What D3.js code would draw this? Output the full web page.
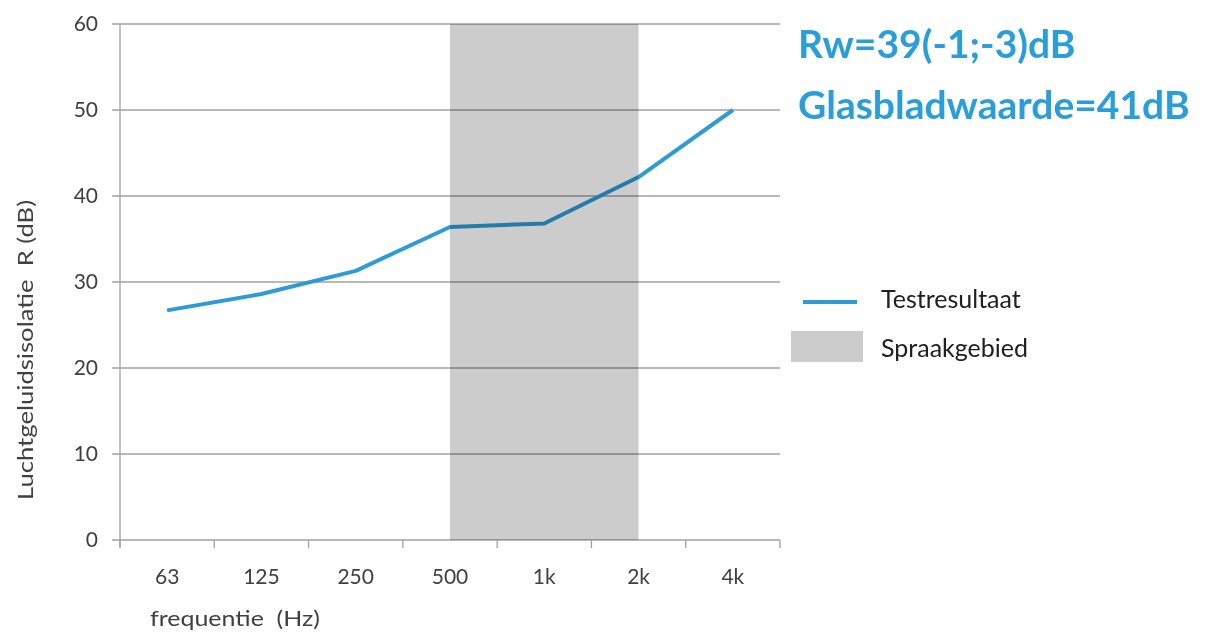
<!DOCTYPE html>
<html>
<head>
    <meta charset="utf-8" />
    <style>
        body { margin: 0; background: white; }
        text { font-family: Lato, "Open Sans", sans-serif; }
    </style>
    <script src="https://d3js.org/d3.v7.min.js"></script>
</head>
<body>
    <script>
        // data
        var frequencies = ["63", "125", "250", "500", "1k", "2k", "4k"];
        var testValues = [26.7, 28.6, 31.3, 36.4, 36.8, 42.2, 50.0];
        var speechBand = ["500", "2k"];
        var yTicks = [0, 10, 20, 30, 40, 50, 60];
        var notes = ["Rw=39(-1;-3)dB", "Glasbladwaarde=41dB"];
        var legendLabels = ["Testresultaat", "Spraakgebied"];

        var width = 1214, height = 632;
        var plotLeft = 120, plotRight = 780, plotTop = 24, plotBottom = 540;
        var blue = "#2e9bd6", gridColor = "#a0a0a0", textColor = "#404040";

        var svg = d3.select("body").append("svg")
            .attr("width", width)
            .attr("height", height);

        var x = d3.scaleBand().domain(frequencies).range([plotLeft, plotRight]);
        var y = d3.scaleLinear().domain([0, 60]).range([plotBottom, plotTop]);
        var cx = function (f) { return x(f) + x.bandwidth() / 2; };

        // horizontal grid + y tick labels
        svg.append("g").selectAll("line").data(yTicks).enter().append("line")
            .attr("x1", plotLeft - 8).attr("x2", plotRight)
            .attr("y1", function (d) { return y(d); })
            .attr("y2", function (d) { return y(d); })
            .attr("stroke", gridColor).attr("stroke-width", 1.3);
        svg.append("g").selectAll("text").data(yTicks).enter().append("text")
            .attr("x", plotLeft - 22).attr("y", function (d) { return y(d) + 7; })
            .attr("text-anchor", "end").attr("font-size", 21).attr("fill", textColor)
            .text(function (d) { return d; });

        // left axis line
        svg.append("line").attr("x1", plotLeft).attr("x2", plotLeft)
            .attr("y1", plotTop).attr("y2", plotBottom + 8)
            .attr("stroke", gridColor).attr("stroke-width", 1.3);

        // category boundary ticks
        var bounds = frequencies.map(function (f) { return x(f); }).concat([plotRight]);
        svg.append("g").selectAll("line").data(bounds).enter().append("line")
            .attr("x1", function (d) { return d; }).attr("x2", function (d) { return d; })
            .attr("y1", plotBottom).attr("y2", plotBottom + 8)
            .attr("stroke", gridColor).attr("stroke-width", 1.3);

        svg.append("g").selectAll("text").data(frequencies).enter().append("text")
            .attr("x", function (d) { return cx(d); }).attr("y", 584)
            .attr("text-anchor", "middle").attr("font-size", 21).attr("fill", textColor)
            .text(function (d) { return d; });

        // test result line
        var line = d3.line()
            .x(function (d, i) { return cx(frequencies[i]); })
            .y(function (d) { return y(d); });
        svg.append("path").datum(testValues)
            .attr("d", line)
            .attr("fill", "none").attr("stroke", blue).attr("stroke-width", 4)
            .attr("stroke-linejoin", "round");

        // speech band, multiplied over line and grid
        svg.append("rect")
            .attr("x", cx(speechBand[0])).attr("width", cx(speechBand[1]) - cx(speechBand[0]))
            .attr("y", plotTop).attr("height", plotBottom - plotTop)
            .attr("fill", "#cccccc").style("mix-blend-mode", "multiply");

        // axis titles
        svg.append("text").attr("x", 150).attr("y", 626)
            .attr("font-size", 21).attr("fill", textColor).attr("xml:space", "preserve")
            .attr("textLength", 170).attr("lengthAdjust", "spacingAndGlyphs")
            .text("frequentie  (Hz)");
        svg.append("text")
            .attr("transform", "translate(33,350) rotate(-90)")
            .attr("text-anchor", "middle").attr("font-size", 21).attr("fill", textColor)
            .attr("xml:space", "preserve")
            .attr("textLength", 300).attr("lengthAdjust", "spacingAndGlyphs")
            .text("Luchtgeluidsisolatie  R (dB)");

        // notes
        svg.append("g").selectAll("text").data(notes).enter().append("text")
            .attr("x", 798).attr("y", function (d, i) { return 58 + i * 61; })
            .attr("font-size", 39).attr("font-weight", "bold").attr("fill", "#2a9edb")
            .text(function (d) { return d; });

        // legend
        svg.append("line").attr("x1", 803).attr("x2", 857).attr("y1", 302).attr("y2", 302)
            .attr("stroke", blue).attr("stroke-width", 4);
        svg.append("rect").attr("x", 791).attr("y", 331).attr("width", 72).attr("height", 31)
            .attr("fill", "#cccccc");
        svg.append("g").selectAll("text").data(legendLabels).enter().append("text")
            .attr("x", 881).attr("y", function (d, i) { return 308 + i * 49; })
            .attr("font-size", 25).attr("fill", "#202020")
            .text(function (d) { return d; });
    </script>
</body>
</html>
